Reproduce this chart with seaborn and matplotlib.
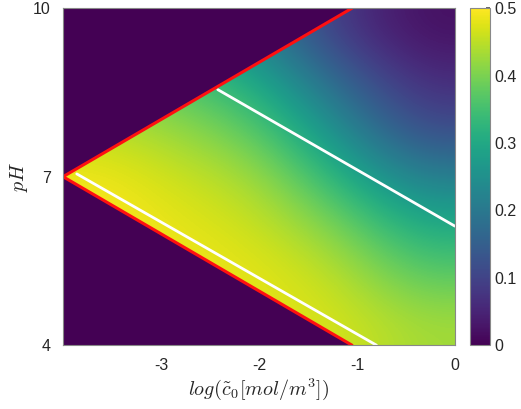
import numpy as np
import matplotlib
matplotlib.use("Agg")
import matplotlib.pyplot as plt
import seaborn as sns

sns.set_theme(style="white")
plt.rcParams['font.family'] = ['Liberation Sans', 'DejaVu Sans']
plt.rcParams['mathtext.fontset'] = 'cm'
plt.rcParams['axes.unicode_minus'] = False

# values on a coarse grid (log c0 columns, pH rows top->bottom)
log_c0 = [-4, -3, -2, -1, 0]
ph = [10, 9, 8, 7, 6, 5, 4]
field = np.array([
    [0.32, 0.28, 0.21, 0.08, 0.02],
    [0.40, 0.36, 0.30, 0.16, 0.06],
    [0.45, 0.42, 0.37, 0.24, 0.11],
    [0.49, 0.46, 0.43, 0.32, 0.21],
    [0.50, 0.48, 0.46, 0.40, 0.30],
    [0.50, 0.49, 0.48, 0.45, 0.37],
    [0.50, 0.49, 0.48, 0.47, 0.43],
])

# red boundary lines of the wedge
red_upper_x = [-4, -1.05]
red_upper_y = [7, 10]
red_lower_x = [-4, -1.05]
red_lower_y = [7, 4]

# white contour lines
white_a_x = [-2.42, 0]
white_a_y = [8.55, 6.12]
white_b_x = [-3.86, -0.8]
white_b_y = [7.05, 4]

cbar_ticks = [0, 0.1, 0.2, 0.3, 0.4, 0.5]

fig = plt.figure(figsize=(5.21, 4.09), dpi=100)
ax = fig.add_axes([0.121, 0.156, 0.752, 0.824])
cax = fig.add_axes([0.902, 0.156, 0.038, 0.824])

cmap = plt.get_cmap('viridis')
im = ax.imshow(field, extent=[log_c0[0], log_c0[-1], ph[-1], ph[0]],
               origin='upper', aspect='auto', cmap=cmap, vmin=0, vmax=0.5,
               interpolation='bicubic')

# zero region outside the wedge
bg = cmap(0.0)
ax.fill([red_upper_x[0], red_upper_x[1], log_c0[0]],
        [red_upper_y[0], red_upper_y[1], ph[0]], color=bg, lw=0)
ax.fill([red_lower_x[0], red_lower_x[1], log_c0[0]],
        [red_lower_y[0], red_lower_y[1], ph[-1]], color=bg, lw=0)

sns.lineplot(x=white_a_x, y=white_a_y, ax=ax, color='white', lw=2, sort=False)
sns.lineplot(x=white_b_x, y=white_b_y, ax=ax, color='white', lw=2, sort=False)
sns.lineplot(x=red_upper_x, y=red_upper_y, ax=ax, color='#ff1010', lw=2.2, sort=False)
sns.lineplot(x=red_lower_x, y=red_lower_y, ax=ax, color='#ff1010', lw=2.2, sort=False)

ax.set_xlim(-4, 0)
ax.set_ylim(4, 10)
ax.set_xticks([-3, -2, -1, 0])
ax.set_yticks([4, 7, 10])
ax.tick_params(labelsize=11.5, direction='in', length=3, color='#555555', pad=9)
ax.set_xlabel(r'$log(\tilde{c}_0[mol/m^3])$', fontsize=14.5, labelpad=3)
ax.set_ylabel(r'$pH$', fontsize=14.5, labelpad=2)
for s in ax.spines.values():
    s.set_color('#888888')
    s.set_linewidth(0.8)

cb = fig.colorbar(im, cax=cax, ticks=cbar_ticks)
cb.ax.tick_params(labelsize=11.5, direction='in', length=3, color='#555555')
cb.ax.set_yticklabels(['0', '0.1', '0.2', '0.3', '0.4', '0.5'])
cb.outline.set_edgecolor('#888888')
cb.outline.set_linewidth(0.8)

fig.savefig('out.png', dpi=100)
